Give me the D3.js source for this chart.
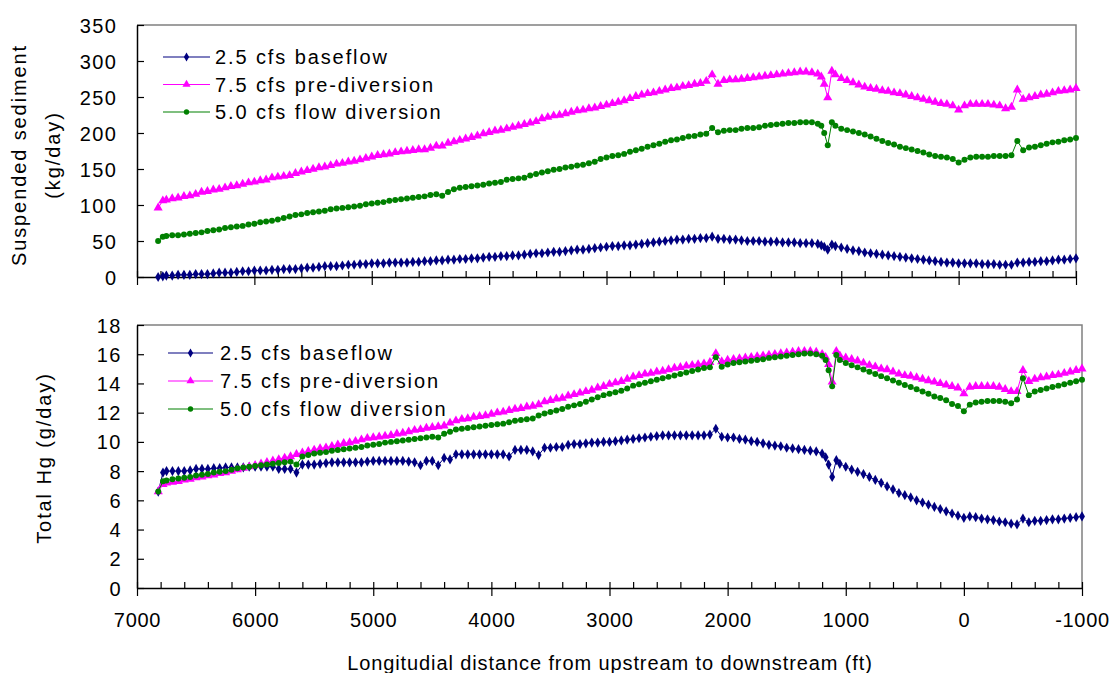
<!DOCTYPE html>
<html>
<head>
<meta charset="utf-8">
<script src="https://cdn.jsdelivr.net/npm/d3@7"></script>
<style>
  html, body { margin: 0; padding: 0; background: #ffffff; }
  svg { display: block; }
  text { font-family: "Liberation Sans", Arial, sans-serif; fill: #000; }
</style>
</head>
<body>
<svg id="chart" width="1112" height="673"></svg>
<script>
// Longitudinal distance of each model station (ft), upstream to downstream
const distance = [
  6820, 6780, 6750, 6700, 6650, 6600, 6550, 6500, 6450, 6400,
  6350, 6300, 6250, 6200, 6150, 6100, 6050, 6000, 5950, 5900,
  5850, 5800, 5750, 5700, 5650, 5600, 5550, 5500, 5450, 5400,
  5350, 5300, 5250, 5200, 5150, 5100, 5050, 5000, 4950, 4900,
  4850, 4800, 4750, 4700, 4650, 4600, 4550, 4500, 4450, 4400,
  4350, 4300, 4250, 4200, 4150, 4100, 4050, 4000, 3950, 3900,
  3850, 3800, 3750, 3700, 3650, 3600, 3550, 3500, 3450, 3400,
  3350, 3300, 3250, 3200, 3150, 3100, 3050, 3000, 2950, 2900,
  2850, 2800, 2750, 2700, 2650, 2600, 2550, 2500, 2450, 2400,
  2350, 2300, 2250, 2200, 2150, 2100, 2050, 2000, 1950, 1900,
  1850, 1800, 1750, 1700, 1650, 1600, 1550, 1500, 1450, 1400,
  1350, 1300, 1250, 1200, 1170, 1145, 1115, 1080, 1050, 1000,
  950, 900, 850, 800, 750, 700, 650, 600, 550, 500,
  450, 400, 350, 300, 250, 200, 150, 100, 50, 0,
  -50, -100, -150, -200, -250, -300, -350, -400, -450, -500,
  -550, -600, -650, -700, -750, -800, -850, -900, -950, -1000
];

// Suspended sediment load (kg/day)
const ssBaseflow = [
  0, 1, 2, 2, 3, 3, 3, 4, 4, 4,
  5, 6, 6, 6, 7, 8, 8, 9, 9, 9,
  10, 10, 11, 11, 11, 12, 13, 13, 14, 15,
  15, 15, 16, 17, 17, 18, 18, 19, 19, 19,
  20, 20, 20, 20, 21, 21, 22, 22, 23, 23,
  24, 24, 25, 25, 26, 26, 27, 28, 28, 29,
  29, 30, 30, 31, 32, 33, 33, 34, 35, 35,
  36, 37, 38, 38, 39, 40, 41, 42, 43, 43,
  44, 44, 45, 46, 47, 48, 49, 50, 51, 52,
  52, 53, 53, 54, 54, 56, 53, 53, 52, 52,
  51, 50, 50, 50, 49, 49, 49, 48, 48, 48,
  47, 47, 47, 46, 44, 42, 38, 45, 43, 41,
  39, 37, 36, 34, 33, 32, 31, 30, 29, 28,
  27, 26, 25, 24, 23, 22, 21, 20, 20, 19,
  19, 19, 19, 18, 18, 18, 17, 17, 17, 20,
  20, 21, 21, 22, 22, 23, 24, 24, 25, 26
];
const ssPreDiversion = [
  96, 106, 107, 109, 110, 112, 113, 115, 118, 119,
  121, 122, 124, 126, 127, 129, 131, 132, 134, 135,
  138, 139, 140, 141, 144, 146, 148, 150, 152, 153,
  155, 157, 158, 160, 161, 163, 165, 167, 169, 170,
  171, 173, 174, 175, 176, 177, 177, 179, 182, 182,
  186, 188, 190, 192, 194, 196, 199, 201, 203, 204,
  206, 208, 210, 212, 214, 216, 220, 222, 224, 225,
  227, 229, 231, 232, 234, 235, 237, 239, 241, 243,
  245, 248, 251, 253, 255, 256, 258, 260, 262, 263,
  265, 266, 268, 269, 272, 281, 268, 273, 274, 274,
  275, 276, 277, 278, 279, 280, 281, 282, 283, 284,
  285, 285, 284, 282, 278, 268, 249, 286, 281, 276,
  273, 270, 267, 264, 262, 261, 259, 258, 256, 255,
  253, 251, 249, 247, 245, 243, 241, 240, 238, 232,
  238, 240, 240, 240, 240, 239, 238, 234, 236, 260,
  247, 249, 251, 253, 254, 256, 258, 259, 260, 262
];
const ssFlowDiversion = [
  50, 56, 57, 58, 58, 59, 60, 61, 62, 64,
  65, 66, 68, 69, 70, 71, 73, 74, 76, 77,
  78, 80, 82, 84, 86, 87, 89, 90, 91, 92,
  94, 95, 96, 97, 98, 99, 101, 102, 103, 104,
  106, 107, 108, 109, 110, 111, 112, 114, 115, 113,
  118, 122, 124, 125, 126, 127, 128, 130, 131, 132,
  135, 136, 137, 138, 141, 143, 145, 147, 149, 150,
  152, 153, 155, 156, 158, 160, 164, 166, 168, 169,
  171, 174, 176, 178, 181, 183, 185, 188, 190, 191,
  193, 195, 196, 198, 199, 207, 201, 203, 204, 204,
  206, 207, 207, 208, 210, 211, 212, 213, 214, 214,
  215, 215, 215, 213, 210, 200, 183, 215, 210, 206,
  204, 202, 200, 198, 195, 192, 189, 186, 184, 181,
  179, 177, 175, 173, 170, 168, 167, 166, 164, 159,
  163, 166, 167, 167, 167, 168, 168, 168, 169, 189,
  176, 180, 181, 183, 185, 187, 188, 190, 191, 193
];

// Total mercury load (g/day)
const hgBaseflow = [
  6.6, 7.9, 8.0, 8.0, 8.0, 8.0, 8.05, 8.15, 8.15, 8.15,
  8.2, 8.2, 8.25, 8.25, 8.25, 8.25, 8.3, 8.3, 8.3, 8.3,
  8.3, 8.15, 8.15, 8.15, 7.9, 8.45, 8.45, 8.45, 8.5, 8.55,
  8.6, 8.6, 8.6, 8.6, 8.6, 8.6, 8.65, 8.7, 8.7, 8.7,
  8.7, 8.7, 8.7, 8.65, 8.6, 8.4, 8.7, 8.7, 8.4, 8.9,
  8.8, 9.15, 9.15, 9.15, 9.15, 9.15, 9.15, 9.15, 9.15, 9.15,
  9.0, 9.45, 9.45, 9.45, 9.35, 9.1, 9.6, 9.6, 9.65, 9.65,
  9.8, 9.85, 9.85, 9.9, 9.95, 9.95, 10.0, 10.0, 10.05, 10.1,
  10.15, 10.2, 10.25, 10.3, 10.35, 10.4, 10.45, 10.45, 10.45, 10.45,
  10.45, 10.45, 10.45, 10.45, 10.5, 10.9, 10.35, 10.3, 10.3, 10.2,
  10.15, 10.05, 10.0, 9.9, 9.8, 9.75, 9.7, 9.6, 9.55, 9.5,
  9.45, 9.4, 9.35, 9.2, 8.95, 8.45, 7.6, 8.75, 8.5, 8.3,
  8.1, 7.95, 7.8, 7.6, 7.4, 7.2, 6.95, 6.75, 6.5, 6.35,
  6.2, 6.0, 5.85, 5.7, 5.55, 5.4, 5.25, 5.1, 4.95, 4.8,
  4.9, 4.85, 4.75, 4.7, 4.65, 4.55, 4.5, 4.4, 4.35, 4.75,
  4.5, 4.6, 4.6, 4.65, 4.7, 4.7, 4.75, 4.8, 4.85, 4.9
];
const hgPreDiversion = [
  6.6, 7.1, 7.2, 7.25, 7.3, 7.4, 7.45, 7.55, 7.6, 7.7,
  7.75, 7.85, 7.9, 8.0, 8.1, 8.2, 8.3, 8.4, 8.5, 8.6,
  8.7, 8.8, 8.9, 9.0, 9.15, 9.25, 9.35, 9.45, 9.55, 9.6,
  9.7, 9.8, 9.9, 9.95, 10.05, 10.15, 10.25, 10.3, 10.35, 10.4,
  10.45, 10.55, 10.6, 10.7, 10.8, 10.85, 10.95, 11.0, 11.05, 11.1,
  11.3, 11.45, 11.55, 11.6, 11.7, 11.75, 11.8, 11.9, 12.0, 12.05,
  12.15, 12.25, 12.3, 12.4, 12.45, 12.55, 12.75, 12.85, 12.95, 13.0,
  13.15, 13.25, 13.35, 13.45, 13.55, 13.7, 13.8, 13.95, 14.05, 14.15,
  14.3, 14.45, 14.55, 14.65, 14.7, 14.8, 14.85, 14.95, 15.05, 15.1,
  15.2, 15.25, 15.3, 15.35, 15.45, 16.05, 15.5, 15.6, 15.65, 15.7,
  15.75, 15.8, 15.85, 15.9, 15.95, 16.0, 16.05, 16.1, 16.15, 16.2,
  16.2, 16.2, 16.15, 16.0, 15.8, 15.3, 14.1, 16.2, 15.9, 15.75,
  15.65, 15.55, 15.4, 15.25, 15.15, 15.0, 14.95, 14.8, 14.65, 14.55,
  14.5, 14.4, 14.3, 14.2, 14.1, 14.0, 13.9, 13.8, 13.7, 13.3,
  13.75, 13.8, 13.8, 13.8, 13.8, 13.75, 13.6, 13.45, 13.45, 14.9,
  14.15, 14.3, 14.4, 14.45, 14.55, 14.6, 14.7, 14.8, 14.9, 15.0
];
const hgFlowDiversion = [
  6.6, 7.3, 7.35, 7.45, 7.5, 7.55, 7.6, 7.7, 7.75, 7.8,
  7.9, 7.95, 8.0, 8.1, 8.2, 8.25, 8.3, 8.35, 8.4, 8.45,
  8.5, 8.55, 8.6, 8.65, 8.45, 9.0, 9.1, 9.2, 9.25, 9.3,
  9.4, 9.45, 9.5, 9.55, 9.6, 9.65, 9.75, 9.8, 9.85, 9.95,
  10.0, 10.05, 10.1, 10.15, 10.2, 10.25, 10.3, 10.35, 10.3, 10.55,
  10.7, 10.85, 10.9, 10.95, 11.0, 11.05, 11.1, 11.15, 11.2, 11.25,
  11.35, 11.45, 11.5, 11.55, 11.6, 11.8, 11.95, 12.05, 12.15, 12.25,
  12.4, 12.5, 12.6, 12.75, 12.9, 13.05, 13.2, 13.3, 13.4, 13.5,
  13.65, 13.85, 13.95, 14.05, 14.15, 14.25, 14.35, 14.45, 14.55, 14.65,
  14.75, 14.85, 14.95, 15.05, 15.1, 15.8, 15.15, 15.3, 15.4, 15.45,
  15.5, 15.55, 15.6, 15.65, 15.75, 15.8, 15.85, 15.9, 15.95, 16.0,
  16.05, 16.05, 16.0, 15.9, 15.6, 14.9, 13.8, 15.95, 15.6, 15.4,
  15.25, 15.1, 14.95, 14.8, 14.65, 14.5, 14.35, 14.2, 14.05, 13.9,
  13.75, 13.6, 13.45, 13.3, 13.1, 13.0, 12.85, 12.6, 12.45, 12.1,
  12.55, 12.7, 12.75, 12.8, 12.8, 12.8, 12.75, 12.65, 12.9, 14.35,
  13.2, 13.45, 13.55, 13.65, 13.75, 13.85, 13.95, 14.05, 14.15, 14.25
];

const seriesNames = ["2.5 cfs baseflow", "7.5 cfs pre-diversion", "5.0 cfs flow diversion"];
const seriesColors = ["#000080", "#FF00FF", "#008000"];
const seriesSymbols = [d3.symbolDiamond, d3.symbolTriangle, d3.symbolCircle];
const symbolSizes = [30, 36, 28];

const xTickValues = [7000, 6000, 5000, 4000, 3000, 2000, 1000, 0, -1000];
const ssTickValues = [0, 50, 100, 150, 200, 250, 300, 350];
const hgTickValues = [0, 2, 4, 6, 8, 10, 12, 14, 16, 18];

const svg = d3.select("#chart");

const panels = [
  {
    left: 137, right: 1076, top: 25, bottom: 277,
    yMax: 350, yTicks: ssTickValues,
    values: [ssBaseflow, ssPreDiversion, ssFlowDiversion],
    yTitle: ["Suspended sediment", "(kg/day)"], titleX: [26, 60], titleY: 155,
    labelPad: 19.5, legend: { x1: 163, x2: 210, tx: 215, rows: [57, 84.5, 112] },
    xLabels: false
  },
  {
    left: 137, right: 1082, top: 325, bottom: 588,
    yMax: 18, yTicks: hgTickValues,
    values: [hgBaseflow, hgPreDiversion, hgFlowDiversion],
    yTitle: ["Total Hg (g/day)"], titleX: [51], titleY: 458,
    labelPad: 15, legend: { x1: 168, x2: 213, tx: 220, rows: [353, 381, 409] },
    xLabels: true
  }
];

panels.forEach(p => {
  const x = d3.scaleLinear().domain([7000, -1000]).range([p.left, p.right]);
  const y = d3.scaleLinear().domain([0, p.yMax]).range([p.bottom, p.top]);
  const g = svg.append("g");

  // plot-area frame (top and right edges)
  g.append("path")
    .attr("d", `M${p.left},${p.top}H${p.right}V${p.bottom}`)
    .attr("fill", "none").attr("stroke", "#808080").attr("stroke-width", 1.5);

  // y axis with inward ticks
  const yAxis = g.append("g")
    .attr("transform", `translate(${p.left},0)`)
    .call(d3.axisLeft(y).tickValues(p.yTicks).tickSizeInner(-7).tickSizeOuter(0).tickPadding(p.labelPad));
  yAxis.select(".domain").attr("stroke", "#000").attr("stroke-width", 1.5);
  yAxis.selectAll(".tick line").attr("stroke", "#000").attr("stroke-width", 1.2);
  yAxis.selectAll(".tick text")
    .style("font-family", '"Liberation Sans", Arial, sans-serif')
    .style("font-size", "20px").style("letter-spacing", "1.5px")
    .attr("dy", "0.35em");

  // x axis: minor inward ticks every 200 ft, major ticks crossing the axis
  const minor = g.append("g")
    .attr("transform", `translate(0,${p.bottom})`)
    .call(d3.axisBottom(x).tickValues(d3.range(7000, -1001, -200)).tickSize(-6).tickFormat(""));
  minor.select(".domain").remove();
  minor.selectAll(".tick line").attr("stroke", "#000").attr("stroke-width", 1.2);

  const major = g.append("g")
    .attr("transform", `translate(0,${p.bottom})`)
    .call(d3.axisBottom(x).tickValues(xTickValues).tickSizeInner(8).tickSizeOuter(0)
      .tickPadding(17).tickFormat(p.xLabels ? (d => String(d)) : ""));
  major.select(".domain").attr("stroke", "#000").attr("stroke-width", 1.5);
  major.selectAll(".tick line").attr("stroke", "#000").attr("stroke-width", 1.2);
  major.selectAll(".tick text")
    .style("font-family", '"Liberation Sans", Arial, sans-serif')
    .style("font-size", "20px").style("letter-spacing", "0.7px");

  // y-axis title
  p.yTitle.forEach((t, i) => {
    g.append("text")
      .attr("transform", `translate(${p.titleX[i]},${p.titleY}) rotate(-90)`)
      .attr("text-anchor", "middle")
      .style("font-size", "20px").style("letter-spacing", "1.9px")
      .text(t);
  });

  // series lines and markers
  const line = d3.line().x(d => x(d.x)).y(d => y(d.v));
  p.values.forEach((vals, s) => {
    const pts = distance.map((d, i) => ({ x: d, v: vals[i] }));
    g.append("path")
      .datum(pts)
      .attr("d", line)
      .attr("fill", "none")
      .attr("stroke", seriesColors[s])
      .attr("stroke-width", 1);
    g.append("g").selectAll("path")
      .data(pts)
      .join("path")
      .attr("transform", d => `translate(${x(d.x)},${y(d.v)})`)
      .attr("d", d3.symbol().type(seriesSymbols[s]).size(symbolSizes[s]))
      .attr("fill", seriesColors[s]);
  });

  // legend
  const lg = p.legend;
  seriesNames.forEach((name, s) => {
    const ry = lg.rows[s];
    g.append("line")
      .attr("x1", lg.x1).attr("x2", lg.x2).attr("y1", ry).attr("y2", ry)
      .attr("stroke", seriesColors[s]).attr("stroke-width", 1.2);
    g.append("path")
      .attr("transform", `translate(${(lg.x1 + lg.x2) / 2},${ry})`)
      .attr("d", d3.symbol().type(seriesSymbols[s]).size(symbolSizes[s] * 0.8))
      .attr("fill", seriesColors[s]);
    g.append("text")
      .attr("x", lg.tx).attr("y", ry + 7)
      .style("font-size", "20px").style("letter-spacing", "1.9px")
      .text(name);
  });
});

// shared x-axis title
svg.append("text")
  .attr("x", 610).attr("y", 670)
  .attr("text-anchor", "middle")
  .style("font-size", "20px").style("letter-spacing", "0.9px")
  .text("Longitudial distance from upstream to downstream (ft)");
</script>
</body>
</html>
